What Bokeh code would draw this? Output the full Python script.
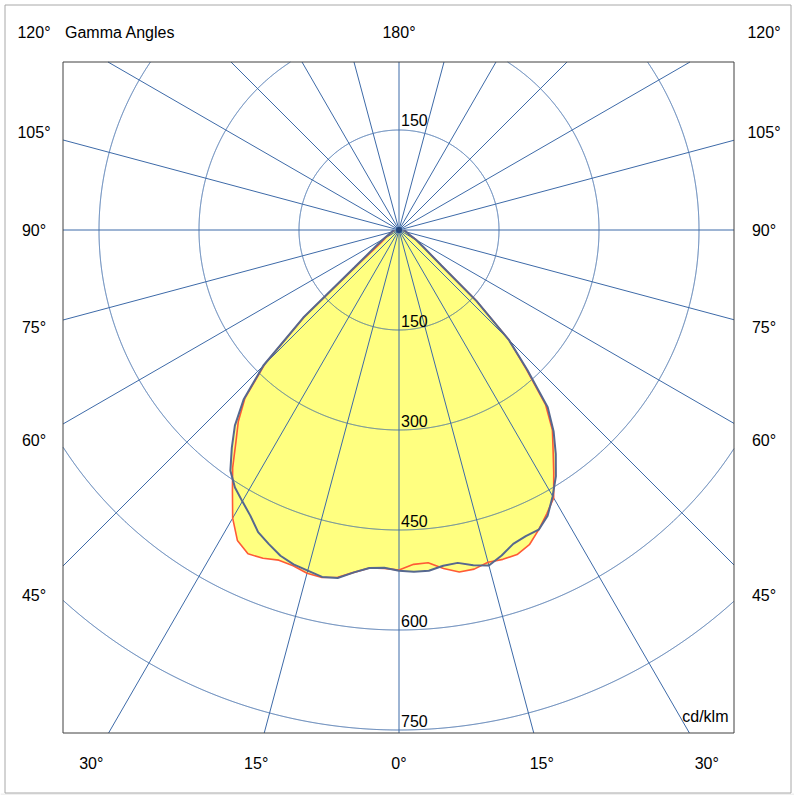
import numpy as np
from bokeh.plotting import figure
from bokeh.models import Range1d
from bokeh.core.properties import value
from bokeh.embed import file_html
from bokeh.resources import INLINE

# ---- data (cd/klm) ----
gamma = [0, 2.5, 5, 7.5, 10, 12.5, 15, 17.5, 20, 22.5, 25, 27.5, 30, 32.5, 35,
         37.5, 40, 42.5, 45, 47.5, 50, 55, 60, 65, 70, 75, 80, 85, 90]

# C0-C180 plane (red curve)
c180_left = [510, 508, 509, 518, 529, 534, 533, 528, 527, 533, 536, 525, 499, 465, 435,
             402, 375, 342, 285, 192, 78, 33, 23, 17, 13, 11, 9, 8, 8]
c0_right = [511, 502, 501, 512, 521, 521, 516, 518, 518, 511, 496, 480, 464, 432, 403,
            378, 342, 282, 233, 158, 83, 45, 30, 18, 14, 11, 10, 8, 8]
# C90-C270 plane (blue curve)
c270_left = [511, 507, 509, 518, 530, 533, 529, 526, 520, 510, 500, 483, 470, 458, 441,
             412, 383, 345, 288, 195, 87, 42, 27, 18, 14, 11, 10, 8, 8]
c90_right = [511, 513, 513, 508, 507, 515, 521, 512, 501, 497, 496, 483, 461, 438, 410,
             381, 347, 285, 233, 158, 83, 45, 30, 18, 14, 11, 10, 8, 8]

rings = [150, 300, 450, 600, 750]
ring_labels = ["150", "300", "450", "600", "750"]
upper_rings = [150]
spoke_step = 15
side_angles = [45, 60, 75, 90, 105, 120]
bottom_angles = [-30, -15, 0, 15, 30]
top_angle = 180
unit_label = "cd/klm"
title_text = "Gamma Angles"

# ---- geometry (data units, 1.5 cd/klm per pixel, pole at pixel 398,229) ----
W, H = 794, 795
S = 1.5
CX, CY = 398.5, 229.5
FX0, FX1 = -CX * S, (W - CX) * S
FY0, FY1 = -(H - CY) * S, CY * S
IX0, IX1 = (62.5 - CX) * S, (733.5 - CX) * S      # inner diagram box
IY0, IY1 = -(732.5 - CY) * S, (CY - 61.5) * S
FONT = "Liberation Sans"
FS = "16px"

p = figure(width=W, height=H, x_range=Range1d(FX0, FX1), y_range=Range1d(FY0, FY1),
           output_backend="svg", toolbar_location=None,
           x_axis_location=None, y_axis_location=None,
           min_border_left=0, min_border_right=0, min_border_top=0, min_border_bottom=0)
p.grid.visible = False
p.outline_line_color = None
p.background_fill_color = "white"
p.border_fill_color = "white"

# light strip below the outer border, and the outer border
p.quad(left=[FX0], right=[FX1], bottom=[FY0], top=[-(793 - CY) * S],
       fill_color="#f0f0f0", line_color=None)
p.quad(left=[(4.5 - CX) * S], right=[(790.5 - CX) * S], bottom=[-(792.5 - CY) * S],
       top=[(CY - 4.5) * S], fill_color="white", line_color="#a8a8a8", line_width=1)


def outline(left, right):
    g = np.radians(gamma)
    L = np.array(left, dtype=float)
    R = np.array(right, dtype=float)
    xl, yl = -L * np.sin(g), -L * np.cos(g)
    xr, yr = R * np.sin(g), -R * np.cos(g)
    return (np.concatenate([xl[::-1], xr[1:]]), np.concatenate([yl[::-1], yr[1:]]))


rx, ry = outline(c180_left, c0_right)
bx, by = outline(c270_left, c90_right)

FILL = "#FFFF80"
p.patch(rx, ry, fill_color=FILL, line_color=None)
p.patch(bx, by, fill_color=FILL, line_color=None)

GRID = "#3d6aa8"
# rings clipped to the inner box
th = np.linspace(0, 2 * np.pi, 7201)
for r in rings:
    cx = r * np.cos(th)
    cy = r * np.sin(th)
    inside = (cx >= IX0) & (cx <= IX1) & (cy >= IY0) & (cy <= IY1)
    cx = np.where(inside, cx, np.nan)
    cy = np.where(inside, cy, np.nan)
    p.line(cx, cy, line_color=GRID, line_width=1)

# spokes to the inner box edges
angs = np.radians(np.arange(0, 360, spoke_step))
ex, ey = [], []
for a in angs:
    dx, dy = np.cos(a), np.sin(a)
    ts = []
    if abs(dx) > 1e-9:
        ts.append((IX1 if dx > 0 else IX0) / dx)
    if abs(dy) > 1e-9:
        ts.append((IY1 if dy > 0 else IY0) / dy)
    t = min(ts)
    ex.append(t * dx)
    ey.append(t * dy)
p.segment(x0=[0] * len(ex), y0=[0] * len(ey), x1=ex, y1=ey, line_color=GRID, line_width=1)

p.line(rx, ry, line_color="#ff5a36", line_width=1.6)
p.line(bx, by, line_color="#56688f", line_width=2)
p.scatter(x=[0], y=[0], size=5, color="#24457a")

# inner box frame
p.quad(left=[IX0], right=[IX1], bottom=[IY0], top=[IY1], fill_color=None,
       line_color="#404040", line_width=1)

# ring labels
lx, ly, lt = [], [], []
for r, t in zip(rings, ring_labels):
    lx.append(3.0); ly.append(-r + 9 * S); lt.append(t)
for r in upper_rings:
    lx.append(3.0); ly.append(r + 10 * S); lt.append(ring_labels[rings.index(r)])
p.text(x=lx, y=ly, text=lt, text_align="left", text_baseline="middle",
       text_font=value(FONT), text_font_size=FS, text_color="black")

# angle labels
XS = 365 * S
YB = -533 * S
YT = 198 * S
ax, ay, at = [], [], []
for a in side_angles:
    g = np.radians(a)
    y = min(-XS * np.cos(g) / np.sin(g), YT)
    for sx in (-1, 1):
        ax.append(sx * XS); ay.append(y); at.append(f"{a}°")
for a in bottom_angles:
    ax.append(-YB * np.tan(np.radians(a))); ay.append(YB); at.append(f"{abs(a)}°")
ax.append(0.0); ay.append(YT); at.append(f"{top_angle}°")
p.text(x=ax, y=ay, text=at, text_align="center", text_baseline="middle",
       text_font=value(FONT), text_font_size=FS, text_color="black")

p.text(x=[IX0 + 3.0], y=[YT], text=[title_text], text_align="left", text_baseline="middle",
       text_font=value(FONT), text_font_size=FS, text_color="black")
p.text(x=[(728 - CX) * S], y=[-(716 - CY) * S], text=[unit_label], text_align="right",
       text_baseline="middle", text_font=value(FONT), text_font_size=FS,
       text_color="black")

open("out.html", "w").write(file_html(p, INLINE))
